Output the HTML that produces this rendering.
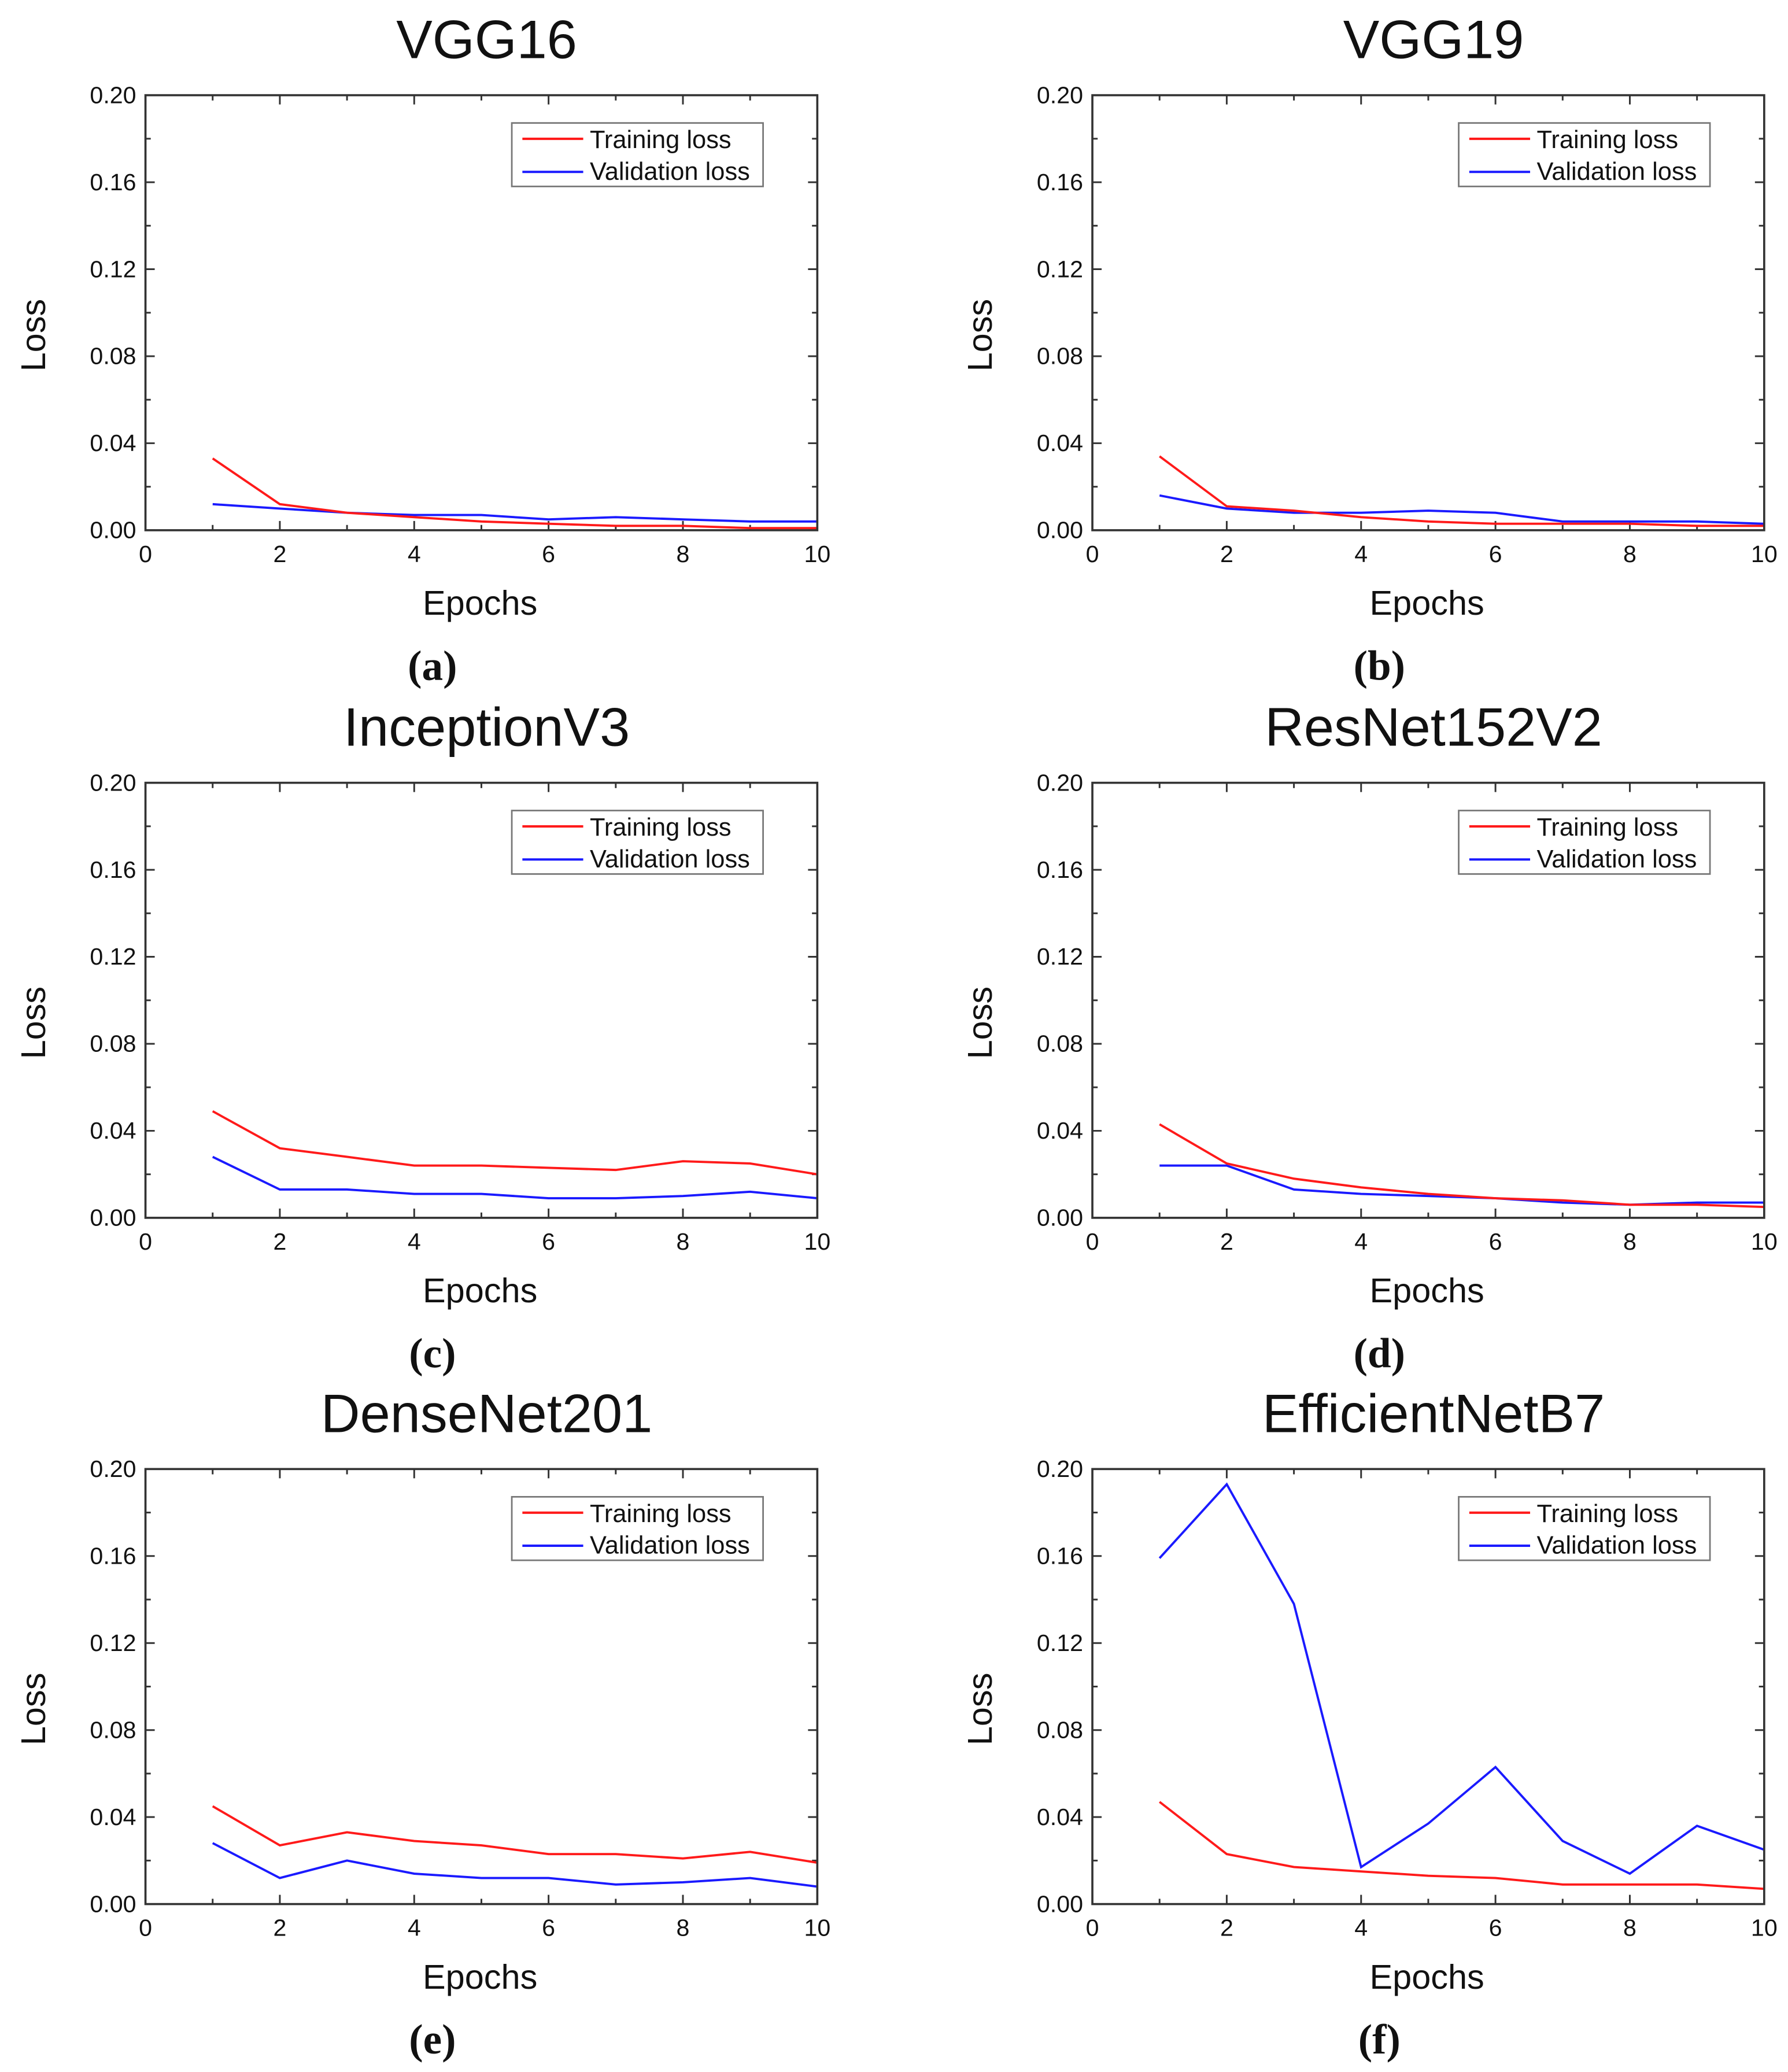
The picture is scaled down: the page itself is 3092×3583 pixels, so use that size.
<!DOCTYPE html>
<html><head><meta charset="utf-8">
<style>
html,body{margin:0;padding:0;background:#fff;}
svg{display:block;}
text{font-family:"Liberation Sans",Arial,sans-serif;fill:#111;}
</style></head>
<body>
<svg id="fig" width="3092" height="3583" viewBox="0 0 1352 1567" preserveAspectRatio="none" xmlns="http://www.w3.org/2000/svg"></svg>
<script>
const epochs = [1,2,3,4,5,6,7,8,9,10];
const xTicks = [0,2,4,6,8,10];
const yTicks = [0.00,0.04,0.08,0.12,0.16,0.20];
const titles = ["VGG16","VGG19","InceptionV3","ResNet152V2","DenseNet201","EfficientNetB7"];
const letters = ["(a)","(b)","(c)","(d)","(e)","(f)"];
const trainA = [0.033,0.012,0.008,0.006,0.004,0.003,0.002,0.002,0.001,0.001];
const valA   = [0.012,0.010,0.008,0.007,0.007,0.005,0.006,0.005,0.004,0.004];
const trainB = [0.034,0.011,0.009,0.006,0.004,0.003,0.003,0.003,0.002,0.002];
const valB   = [0.016,0.010,0.008,0.008,0.009,0.008,0.004,0.004,0.004,0.003];
const trainC = [0.049,0.032,0.028,0.024,0.024,0.023,0.022,0.026,0.025,0.020];
const valC   = [0.028,0.013,0.013,0.011,0.011,0.009,0.009,0.010,0.012,0.009];
const trainD = [0.043,0.025,0.018,0.014,0.011,0.009,0.008,0.006,0.006,0.005];
const valD   = [0.024,0.024,0.013,0.011,0.010,0.009,0.007,0.006,0.007,0.007];
const trainE = [0.045,0.027,0.033,0.029,0.027,0.023,0.023,0.021,0.024,0.019];
const valE   = [0.028,0.012,0.020,0.014,0.012,0.012,0.009,0.010,0.012,0.008];
const trainF = [0.047,0.023,0.017,0.015,0.013,0.012,0.009,0.009,0.009,0.007];
const valF   = [0.159,0.193,0.138,0.017,0.037,0.063,0.029,0.014,0.036,0.025];
const trains = [trainA,trainB,trainC,trainD,trainE,trainF];
const vals = [valA,valB,valC,valD,valE,valF];

const NS = "http://www.w3.org/2000/svg";
const svg = document.getElementById('fig');
function mk(tag, attrs, parent, txt){
  const e = document.createElementNS(NS, tag);
  for (const k in attrs) e.setAttribute(k, attrs[k]);
  if (txt !== undefined) e.textContent = txt;
  parent.appendChild(e);
  return e;
}
const colX = [110, 826];
const rowY = [72, 592, 1111];
const PW = 508, PH = 329;

for (let i = 0; i < 6; i++) {
  const L = colX[i % 2], T = rowY[Math.floor(i / 2)], R = L + PW, B = T + PH;
  const xs = v => L + (v / 10) * PW;
  const ys = v => B - (v / 0.2) * PH;
  const g = mk('g', {}, svg);
  
  

  const t = mk('text', {x: L + 258, y: T - 28, 'font-size': 41, 'text-anchor': 'middle'}, g, titles[i]);
  
  

  for (let v = 0; v <= 10; v++) {
    const len = v % 2 === 0 ? 7 : 4;
    mk('line', {x1: xs(v), x2: xs(v), y1: B, y2: B - len, stroke: '#333', 'stroke-width': 1.3}, g);
    mk('line', {x1: xs(v), x2: xs(v), y1: T, y2: T + len, stroke: '#333', 'stroke-width': 1.3}, g);
  }
  for (let k = 0; k <= 10; k++) {
    const v = k * 0.02, len = k % 2 === 0 ? 7 : 4;
    mk('line', {x1: L, x2: L + len, y1: ys(v), y2: ys(v), stroke: '#333', 'stroke-width': 1.3}, g);
    mk('line', {x1: R, x2: R - len, y1: ys(v), y2: ys(v), stroke: '#333', 'stroke-width': 1.3}, g);
  }
  xTicks.forEach(v => {
    const e = mk('text', {x: xs(v), y: B + 24, 'font-size': 18, 'text-anchor': 'middle'}, g, String(v));
    
    
  });
  yTicks.forEach(v => {
    const e = mk('text', {x: L - 7, y: ys(v) + 6, 'font-size': 18, 'text-anchor': 'end'}, g, v.toFixed(2));
    
    
  });
  const xl = mk('text', {x: L + 253, y: B + 64, 'font-size': 26, 'text-anchor': 'middle'}, g, 'Epochs');
  
  
  const yl = mk('text', {x: 0, y: 0, 'font-size': 26, 'text-anchor': 'middle', transform: `translate(${L - 76},${T + PH/2 + 17}) rotate(-90)`}, g, 'Loss');
  
  
  const lt = mk('text', {x: L + 217, y: B + 113, 'font-size': 32, 'text-anchor': 'middle', 'font-weight': 'bold', style: 'font-family:"Liberation Serif",serif'}, g, letters[i]);
  
  

  const tp = epochs.map((e, j) => xs(e).toFixed(1) + ',' + ys(trains[i][j]).toFixed(1)).join(' ');
  const vp = epochs.map((e, j) => xs(e).toFixed(1) + ',' + ys(vals[i][j]).toFixed(1)).join(' ');
  const vl = mk('polyline', {points: vp, fill: 'none', stroke: '#1a1aff', 'stroke-width': 1.7}, g);
  
  
  const tl = mk('polyline', {points: tp, fill: 'none', stroke: '#ff1a1a', 'stroke-width': 1.7}, g);
  
  

  const fr = mk('rect', {x: L, y: T, width: PW, height: PH, fill: 'none', stroke: '#333', 'stroke-width': 1.6}, g);
  
  

  const lg = mk('g', {}, g);
  
  
  const lx = L + 277, ly = T + 21;
  mk('rect', {x: lx, y: ly, width: 190, height: 48, fill: '#fff', stroke: '#777', 'stroke-width': 1.2}, lg);
  mk('line', {x1: lx + 8, x2: lx + 54, y1: ly + 12, y2: ly + 12, stroke: '#ff1a1a', 'stroke-width': 1.8}, lg);
  mk('line', {x1: lx + 8, x2: lx + 54, y1: ly + 37, y2: ly + 37, stroke: '#1a1aff', 'stroke-width': 1.8}, lg);
  const le1 = mk('text', {x: lx + 59, y: ly + 19, 'font-size': 19}, lg, 'Training loss');
  
  
  const le2 = mk('text', {x: lx + 59, y: ly + 43, 'font-size': 19}, lg, 'Validation loss');
  
  
}
</script>
</body></html>
